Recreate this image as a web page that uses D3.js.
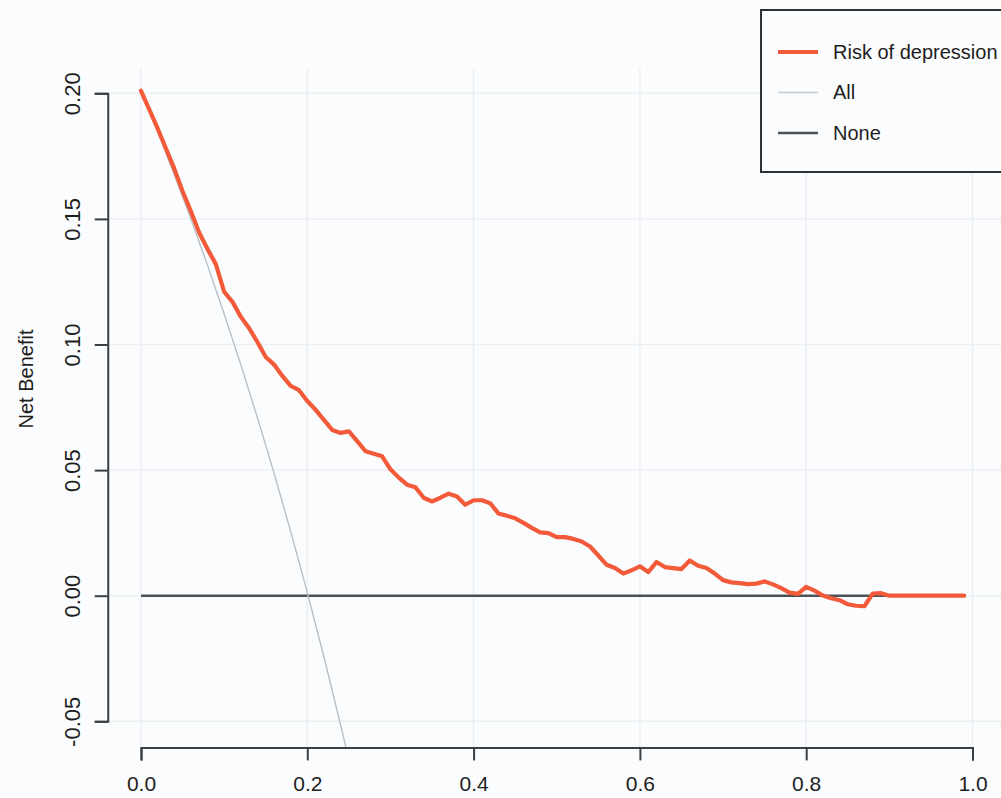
<!DOCTYPE html>
<html>
<head>
<meta charset="utf-8">
<script src="https://cdn.jsdelivr.net/npm/d3@7"></script>
<style>
  html, body { margin: 0; padding: 0; background: #ffffff; }
  svg { display: block; }
  text { font-family: "Liberation Sans", Arial, sans-serif; fill: #1e1e1e; }
</style>
</head>
<body>
<svg id="chart" width="1001" height="798"></svg>
<script>
// ---- data ----
const thresholds = d3.range(0, 100).map(i => i / 100); // 0.00 .. 0.99
const riskValues = [
  0.2010, 0.1935, 0.1860, 0.1780, 0.1700, 0.1610, 0.1530, 0.1445, 0.1380, 0.1320,
  0.1210, 0.1170, 0.1110, 0.1065, 0.1010, 0.0950, 0.0920, 0.0875, 0.0835, 0.0818,
  0.0775, 0.0740, 0.0700, 0.0660, 0.0648, 0.0654, 0.0615, 0.0575, 0.0565, 0.0555,
  0.0503, 0.0470, 0.0442, 0.0432, 0.0390, 0.0375, 0.0390, 0.0406, 0.0395, 0.0362,
  0.0380, 0.0380, 0.0368, 0.0327, 0.0318, 0.0308, 0.0290, 0.0270, 0.0252, 0.0249,
  0.0233, 0.0233, 0.0226, 0.0216, 0.0196, 0.0160, 0.0123, 0.0110, 0.0088, 0.0101,
  0.0117, 0.0094, 0.0134, 0.0114, 0.0110, 0.0106, 0.0140, 0.0119, 0.0110, 0.0088,
  0.0062, 0.0053, 0.0050, 0.0046, 0.0048, 0.0057, 0.0045, 0.0030, 0.0012, 0.0007,
  0.0035, 0.0020, 0.0001, -0.0010, -0.0018, -0.0034, -0.0040, -0.0042, 0.0008, 0.0010,
  0.0000, 0.0000, 0.0000, 0.0000, 0.0000, 0.0000, 0.0000, 0.0000, 0.0000, 0.0000
];
const allThresholds = [0.00, 0.02, 0.04, 0.06, 0.08, 0.10, 0.12, 0.14, 0.16, 0.18, 0.20, 0.22, 0.24, 0.26];
const allValues     = [0.201, 0.1847, 0.1677, 0.1500, 0.1315, 0.1122, 0.0920, 0.0709, 0.0488, 0.0256, 0.0013, -0.0244, -0.0513, -0.0797];
const noneThresholds = [0.00, 0.99];
const noneValues     = [0, 0];
const xTicks = [0, 0.2, 0.4, 0.6, 0.8, 1.0];
const yTicks = [-0.05, 0, 0.05, 0.10, 0.15, 0.20];
const legendLabels = ["Risk of depression", "All", "None"];
const seriesColors = ["#f25a39", "#c2cacf", "#4b5257"];

// ---- layout ----
const svg = d3.select("#chart");
const x = d3.scaleLinear().domain([0, 1]).range([141, 972.5]);
const y = d3.scaleLinear().domain([-0.05, 0.2]).range([721.3, 93.3]);
const plotL = x(-0.04), plotR = x(1.04), plotT = y(0.21), plotB = y(-0.06) + 1;

svg.append("rect").attr("width", 1001).attr("height", 798).attr("fill", "#fbfcfd");

svg.append("defs").append("clipPath").attr("id", "plotclip")
  .append("rect").attr("x", plotL).attr("y", plotT)
  .attr("width", plotR - plotL).attr("height", plotB - plotT);

// grid
const grid = svg.append("g").attr("stroke", "#eceff2").attr("stroke-width", 1.5);
grid.selectAll("line.v").data(xTicks).join("line").attr("class", "v")
  .attr("x1", d => x(d)).attr("x2", d => x(d)).attr("y1", plotT).attr("y2", plotB);
grid.selectAll("line.h").data(yTicks).join("line").attr("class", "h")
  .attr("x1", plotL).attr("x2", plotR).attr("y1", d => y(d)).attr("y2", d => y(d));

const plot = svg.append("g").attr("clip-path", "url(#plotclip)");
const line = d3.line().x(d => x(d[0])).y(d => y(d[1]));

plot.append("path").datum(d3.zip(noneThresholds, noneValues)).attr("d", line)
  .attr("fill", "none").attr("stroke", seriesColors[2]).attr("stroke-width", 2.4);
plot.append("path").datum(d3.zip(allThresholds, allValues)).attr("d", d3.line().curve(d3.curveMonotoneX).x(d => x(d[0])).y(d => y(d[1])))
  .attr("fill", "none").attr("stroke", "#b4c0c7").attr("stroke-width", 1.4);
plot.append("path").datum(d3.zip(thresholds, riskValues)).attr("d", line)
  .attr("fill", "none").attr("stroke", seriesColors[0]).attr("stroke-width", 4.2)
  .attr("stroke-linejoin", "round").attr("stroke-linecap", "round");

// axes
const axisColor = "#3a3f44";
const gx = svg.append("g").attr("transform", `translate(0,${plotB})`)
  .call(d3.axisBottom(x).tickValues(xTicks).tickFormat(d => d.toFixed(1)).tickSizeOuter(0).tickSize(13));
gx.select(".domain").attr("stroke", axisColor).attr("stroke-width", 2);
gx.selectAll(".tick line").attr("stroke", axisColor).attr("stroke-width", 2);
gx.selectAll(".tick text").attr("y", 44).attr("dy", 0)
  .style("font-size", "21px").style("fill", "#1e1e1e");

const gy = svg.append("g").attr("transform", `translate(${plotL},0)`)
  .call(d3.axisLeft(y).tickValues(yTicks).tickFormat(d => d.toFixed(2)).tickSizeOuter(0).tickSize(13));
gy.select(".domain").attr("stroke", axisColor).attr("stroke-width", 2);
gy.selectAll(".tick line").attr("stroke", axisColor).attr("stroke-width", 2);
gy.selectAll(".tick text").attr("transform", "rotate(-90)")
  .attr("x", 0).attr("y", -28).attr("dy", 0).attr("text-anchor", "middle")
  .style("font-size", "22px").style("fill", "#1e1e1e");

svg.append("text").attr("transform", "translate(33,379) rotate(-90)")
  .attr("text-anchor", "middle").style("font-size", "20px").text("Net Benefit");

// legend
const lg = svg.append("g");
lg.append("rect").attr("x", 761).attr("y", 10).attr("width", 270).attr("height", 162)
  .attr("fill", "#fbfcfd").attr("stroke", "#2e3236").attr("stroke-width", 2);
const legendY = [52, 92.5, 133];
legendLabels.forEach((lab, i) => {
  lg.append("line").attr("x1", 778).attr("x2", 818).attr("y1", legendY[i]).attr("y2", legendY[i])
    .attr("stroke", seriesColors[i]).attr("stroke-width", i === 0 ? 4.2 : (i === 1 ? 1.5 : 2.4));
  lg.append("text").attr("x", 833).attr("y", legendY[i] + 6.5)
    .style("font-size", "20px").text(lab);
});
</script>
</body>
</html>
